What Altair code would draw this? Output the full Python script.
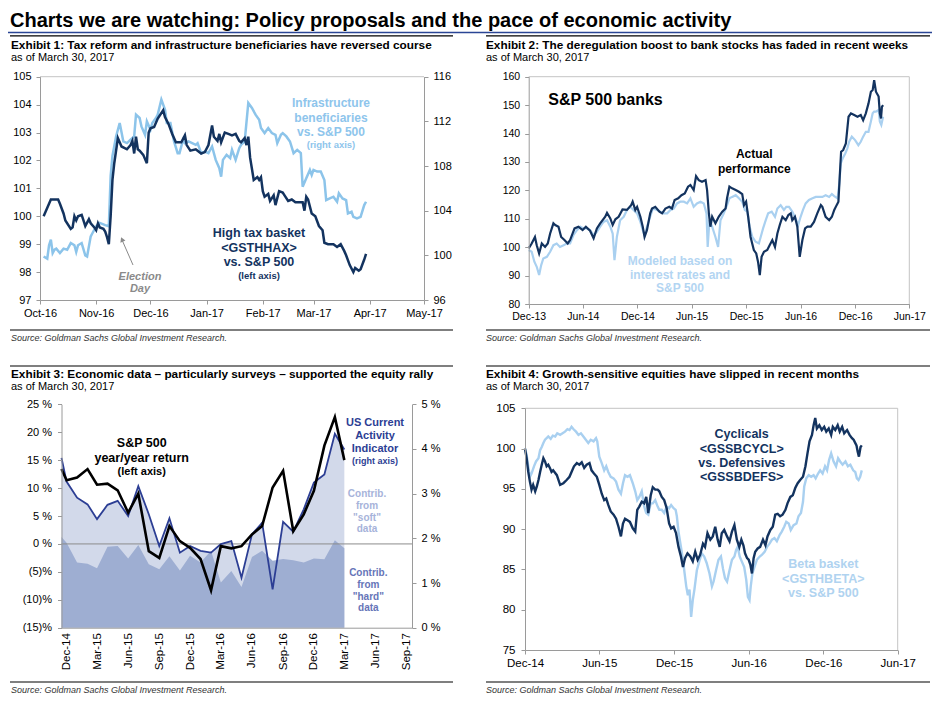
import altair as alt
import pandas as pd

# ------------------------------------------------------------------ text
TITLE = "Charts we are watching: Policy proposals and the pace of economic activity"
EXHIBITS = [
    "Exhibit 1: Tax reform and infrastructure beneficiaries have reversed course",
    "Exhibit 2: The deregulation boost to bank stocks has faded in recent weeks",
    "Exhibit 3: Economic data \u2013 particularly surveys \u2013  supported the equity rally",
    "Exhibit 4: Growth-sensitive equities have slipped in recent months",
]
AS_OF = "as of March 30, 2017"
SOURCE = "Source: Goldman Sachs Global Investment Research."

# ------------------------------------------------------------------ Exhibit 1 (days since 2016-10-01)
P1_START = "2016-10-01"
P1_TAX_DAY = [2, 6, 10, 11, 13, 14, 17, 18, 19, 20, 21, 23, 24, 25, 27, 28, 30, 31, 32, 33,
              35, 36, 37, 38, 39, 40, 41, 43, 45, 48, 50, 51, 52, 53, 54, 55, 57, 59, 60, 61,
              63, 65, 68, 69, 71, 73, 75, 78, 80, 81, 83, 86, 87, 89, 91, 93, 95, 96, 98, 99,
              100, 102, 104, 106, 108, 110, 111, 113, 114, 115, 116, 118, 120, 121, 122, 123, 124, 126, 127, 129,
              130, 132, 134, 135, 137, 139, 141, 145, 146, 147, 148, 150, 152, 154, 156, 157, 159, 162, 164, 166,
              168, 169, 171, 173, 174, 176, 177, 179, 180]
P1_TAX = [100.0, 100.6, 100.6, 100.45, 100.1, 99.85, 99.55, 99.6, 100.0, 99.85,
          100.0, 100.05, 99.85, 99.65, 99.9, 99.75, 99.6, 99.5, 99.75, 99.6,
          99.55, 99.45, 99.25, 99.0, 100.0, 101.3, 101.9, 102.8, 102.5, 102.4,
          102.55, 102.7, 102.25, 102.85, 102.4, 102.35, 102.2, 101.9, 103.0, 103.15,
          103.2, 103.5, 103.8, 103.55, 103.3, 102.95, 102.65, 102.65, 102.9, 102.55,
          102.35, 102.4, 102.35, 102.25, 102.3, 102.55, 103.25, 102.85, 102.7, 102.95,
          102.65, 103.0, 102.95, 102.9, 102.95, 102.7, 102.65, 102.8, 102.55, 102.85,
          102.1, 101.3, 101.4, 101.3, 101.4, 100.9, 100.7, 100.8, 100.55, 100.75,
          100.4, 100.9, 100.85, 100.75, 100.55, 100.6, 100.5, 100.5, 100.2, 100.7,
          100.6, 100.1, 100.0, 99.65, 99.5, 99.05, 99.0, 99.0, 98.9, 99.0,
          98.75, 98.6, 98.25, 98.0, 98.15, 98.05, 98.1, 98.45, 98.65]
P1_INFRA_DAY = [2, 4, 5, 6, 7, 8, 9, 11, 13, 15, 17, 19, 20, 21, 23, 25, 26, 28, 29, 31,
                33, 36, 38, 39, 40, 42, 44, 46, 48, 50, 52, 53, 55, 56, 58, 59, 61, 62, 64, 65,
                67, 69, 70, 72, 74, 76, 77, 79, 80, 82, 84, 86, 87, 89, 91, 93, 95, 97, 99, 100,
                101, 103, 105, 106, 108, 110, 111, 113, 115, 117, 119, 121, 122, 124, 126, 128, 130, 131, 133, 134,
                136, 138, 140, 142, 144, 145, 147, 149, 150, 151, 153, 155, 157, 158, 160, 162, 164, 165, 167, 169,
                170, 172, 173, 175, 177, 179, 180]
P1_INFRA = [99.9, 99.7, 100.9, 101.4, 100.2, 100.5, 100.6, 100.2, 100.6, 100.5,
            101.1, 100.9, 100.3, 100.9, 101.1, 100.0, 99.9, 101.7, 102.0, 102.6,
            102.9, 102.7, 102.6, 107.1, 108.9, 110.65, 111.85, 110.2, 110.05, 110.35,
            110.65, 112.6, 112.3, 111.55, 110.8, 112.0, 111.25, 111.85, 112.3, 112.6,
            113.95, 113.05, 111.85, 111.85, 110.2, 109.15, 109.15, 110.35, 110.05, 110.2,
            110.05, 109.9, 110.05, 109.15, 109.3, 109.15, 109.75, 108.55, 107.8, 107.05,
            108.55, 109.0, 108.7, 109.45, 108.55, 109.6, 109.9, 110.2, 113.65, 113.2,
            112.6, 112.15, 111.4, 110.95, 111.4, 110.95, 110.8, 110.05, 110.8, 110.95,
            110.65, 110.2, 109.15, 109.45, 109.15, 106.15, 106.9, 107.65, 107.2, 107.65,
            107.5, 107.5, 106.75, 104.95, 105.1, 105.25, 104.8, 105.55, 105.1, 104.95,
            103.75, 103.9, 103.45, 103.3, 103.45, 104.5, 104.8]

# ------------------------------------------------------------------ Exhibit 2 (days since 2013-12-01)
P2_START = "2013-12-01"
P2_ACTUAL_DAY = [0, 10, 21, 27, 35, 44, 55, 64, 72, 83, 89, 100, 109, 120, 131, 139, 154, 167, 181, 192,
                 206, 218, 229, 240, 257, 263, 274, 282, 291, 302, 315, 330, 344, 349, 358, 364, 375, 383, 389, 397,
                 408, 414, 425, 439, 448, 459, 472, 481, 490, 502, 513, 524, 535, 543, 554, 562, 571, 582, 594, 599,
                 605, 610, 616, 627, 638, 650, 661, 666, 674, 683, 695, 706, 717, 723, 730, 737, 745, 756, 764, 770,
                 776, 782, 790, 801, 809, 818, 827, 835, 843, 852, 863, 872, 880, 885, 894, 902, 910, 919, 928, 936,
                 947, 958, 969, 981, 986, 997, 1009, 1018, 1026, 1034, 1040, 1045, 1049, 1056, 1065, 1074, 1082, 1093, 1104, 1115,
                 1123, 1132, 1141, 1149, 1155, 1160, 1166, 1175, 1179, 1183, 1186, 1190]
P2_ACTUAL = [99.6, 101.3, 103.6, 100.7, 97.8, 101.3, 100.1, 101.3, 104.8, 108.4,
             107.8, 107.2, 103.6, 102.5, 101.3, 102.5, 106.6, 107.2, 106.0, 107.2,
             105.8, 103.1, 106.6, 108.4, 110.7, 112.1, 110.1, 107.8, 109.8, 110.7,
             113.3, 113.1, 114.8, 116.0, 113.1, 114.2, 110.7, 107.2, 103.6, 106.0,
             111.9, 113.6, 114.2, 112.5, 111.9, 113.6, 114.2, 113.6, 116.6, 117.2,
             118.3, 118.9, 121.3, 121.9, 120.1, 125.0, 123.6, 123.0, 123.6, 120.1,
             111.9, 107.2, 110.7, 108.4, 110.7, 112.5, 113.6, 117.2, 121.3, 120.7,
             120.1, 119.5, 118.7, 114.8, 116.0, 110.7, 103.6, 99.0, 97.8, 94.9,
             90.2, 96.6, 98.4, 99.0, 100.7, 102.5, 100.1, 104.8, 107.8, 110.7,
             109.5, 111.3, 111.9, 109.5, 110.7, 107.2, 96.6, 102.5, 106.6, 107.2,
             107.2, 108.9, 111.9, 114.8, 114.2, 110.7, 109.5, 110.7, 113.1, 114.8,
             116.0, 126.0, 133.6, 134.2, 136.5, 145.9, 147.1, 146.5, 145.9, 146.5,
             144.7, 147.1, 150.6, 154.7, 155.3, 158.8, 154.7, 153.0, 147.1, 145.3,
             149.4, 150.0]
P2_MODEL_DAY = [0, 10, 19, 27, 35, 42, 49, 61, 72, 83, 94, 105, 117, 128, 139, 150, 162, 173, 184, 195,
                206, 218, 229, 240, 251, 263, 274, 282, 288, 296, 307, 319, 330, 341, 352, 364, 375, 383, 389, 397,
                408, 417, 431, 442, 453, 465, 476, 487, 498, 509, 521, 532, 543, 554, 565, 577, 588, 597, 601, 607,
                616, 627, 636, 644, 655, 666, 674, 683, 695, 706, 717, 726, 734, 742, 751, 762, 773, 779, 787, 796,
                804, 816, 827, 835, 846, 857, 865, 874, 885, 896, 905, 913, 921, 930, 941, 953, 964, 975, 986, 997,
                1009, 1018, 1026, 1037, 1043, 1048, 1054, 1063, 1070, 1076, 1085, 1096, 1107, 1115, 1123, 1132, 1141, 1149, 1155, 1160,
                1166, 1175, 1179, 1184, 1190]
P2_MODEL = [99.0, 98.4, 94.9, 93.1, 90.2, 93.7, 96.0, 96.6, 98.4, 100.7,
            101.3, 100.1, 100.7, 101.3, 101.3, 104.2, 106.0, 107.2, 106.6, 106.6,
            106.0, 104.2, 105.4, 107.2, 108.9, 109.5, 107.2, 104.8, 95.4, 103.6,
            109.5, 110.7, 113.1, 114.2, 113.1, 111.9, 108.9, 106.0, 104.2, 107.2,
            110.7, 113.6, 113.1, 112.5, 111.9, 111.9, 113.1, 113.6, 115.4, 116.0,
            116.0, 115.4, 117.2, 114.2, 115.4, 116.0, 115.4, 111.9, 100.1, 109.5,
            107.2, 103.6, 100.1, 109.5, 111.9, 114.8, 117.2, 117.7, 118.3, 117.2,
            116.0, 113.1, 112.5, 107.2, 103.6, 101.9, 101.3, 103.6, 106.6, 109.5,
            111.9, 112.5, 110.7, 113.6, 114.8, 113.1, 114.2, 114.2, 112.5, 110.1,
            107.8, 110.7, 113.1, 115.4, 116.6, 117.2, 117.7, 117.7, 117.7, 118.3,
            117.7, 118.7, 118.0, 117.2, 122.4, 129.5, 131.2, 133.0, 134.8, 137.1,
            138.9, 137.7, 135.9, 137.1, 138.9, 140.6, 140.6, 144.2, 147.1, 147.7,
            147.7, 148.3, 144.2, 143.0, 145.9]

# ------------------------------------------------------------------ Exhibit 3 (monthly)
P3_MONTH = ["2014-11-16", "2014-12-01",
            "2015-01-01", "2015-02-01", "2015-03-01", "2015-04-01", "2015-05-01", "2015-06-01",
            "2015-07-01", "2015-08-01", "2015-09-01", "2015-10-01", "2015-11-01", "2015-12-01",
            "2016-01-01", "2016-02-01", "2016-03-01", "2016-04-01", "2016-05-01", "2016-06-01",
            "2016-07-01", "2016-08-01", "2016-09-01", "2016-10-01", "2016-11-01", "2016-12-01",
            "2017-01-01", "2017-02-01", "2017-03-01"]
P3_SPX = [13.4, 11.4, 11.9, 13.4, 10.6, 10.8, 9.6, 5.6, 9.0, -1.3, -2.5, 3.2, 0.5, -0.7, -2.7,
          -8.3, -0.4, -0.8, -0.4, 1.7, 3.2, 10.1, 13.1, 2.3, 5.3, 9.5, 17.6, 22.7, 15.0]
P3_CAI = [3.8, 3.27, 2.91, 2.76, 2.43, 2.75, 2.84, 2.5, 3.17, 2.54, 1.83, 2.45, 1.68, 1.83, 1.72,
          1.68, 1.87, 1.94, 1.12, 2.09, 2.35, 0.86, 2.37, 2.15, 2.65, 3.25, 3.43, 4.34, 3.99]
P3_HARD = [2.03, 1.9, 1.46, 1.43, 1.33, 1.81, 1.83, 1.55, 1.85, 1.42, 1.31, 1.6, 1.28, 1.61, 1.46,
           1.72, 1.01, 1.27, 0.91, 1.58, 1.72, 1.5, 1.54, 1.51, 1.46, 1.55, 1.53, 1.96, 1.78]

# ------------------------------------------------------------------ Exhibit 4 (days since 2014-12-01)
P4_START = "2014-12-01"
P4_CYCL_DAY = [0, 4, 8, 12, 16, 20, 25, 29, 33, 37, 41, 45, 49, 53, 57, 61, 65, 69, 78, 86,
               94, 102, 109, 114, 120, 127, 133, 139, 145, 151, 158, 163, 169, 176, 182, 188, 194, 199, 204, 210,
               217, 223, 229, 235, 240, 245, 251, 257, 264, 270, 275, 280, 286, 292, 297, 302, 308, 313, 319, 325,
               329, 335, 341, 347, 353, 358, 364, 370, 376, 382, 387, 392, 398, 405, 411, 417, 423, 429, 436, 441,
               447, 454, 460, 466, 472, 477, 482, 488, 495, 501, 507, 513, 519, 525, 530, 535, 539, 544, 548, 552,
               556, 560, 564, 570, 576, 583, 589, 594, 601, 607, 613, 619, 625, 631, 638, 643, 650, 656, 662, 668,
               674, 681, 687, 692, 697, 703, 707, 711, 715, 721, 727, 733, 738, 744, 750, 754, 760, 766, 771, 777,
               782, 789, 795, 801, 805, 812, 815, 818, 822, 825]
P4_CYCL = [100.0, 98.8, 97.1, 95.9, 94.9, 95.5, 94.7, 95.3, 96.1, 97.1,
           98.0, 98.8, 98.4, 97.8, 98.0, 97.6, 97.1, 97.3, 96.7, 95.5,
           95.7, 96.1, 96.5, 97.1, 97.8, 98.2, 98.0, 98.3, 97.6, 98.0,
           98.2, 97.3, 96.9, 96.5, 95.5, 94.4, 93.6, 93.8, 93.0, 92.2,
           91.8, 91.3, 90.3, 89.1, 90.7, 91.3, 91.1, 90.9, 90.1, 89.7,
           92.4, 92.8, 93.4, 93.2, 94.0, 92.0, 94.2, 95.2, 94.9, 94.9,
           94.7, 94.0, 93.6, 92.6, 90.7, 90.1, 90.3, 89.5, 87.8, 86.6,
           85.3, 86.4, 87.0, 86.6, 86.0, 87.2, 86.2, 86.8, 88.2, 87.8,
           89.5, 88.7, 89.1, 90.3, 88.7, 87.8, 89.5, 89.9, 89.1, 88.5,
           89.7, 90.5, 88.7, 87.8, 88.7, 88.0, 87.0, 86.4, 86.2, 85.6,
           84.5, 86.4, 87.2, 87.6, 87.8, 88.7, 88.0, 89.1, 89.9, 90.3,
           91.8, 91.9, 91.6, 91.8, 92.4, 93.2, 94.0, 94.2, 95.1, 95.7,
           96.1, 96.5, 97.8, 99.4, 100.9, 101.7, 102.9, 103.8, 102.5, 102.9,
           102.3, 102.7, 102.1, 102.5, 101.7, 102.7, 102.3, 102.9, 102.1, 102.7,
           101.9, 102.3, 101.7, 101.3, 101.1, 100.4, 99.6, 99.0, 100.2, 100.4]
P4_BETA_DAY = [0, 4, 8, 12, 16, 22, 27, 33, 37, 41, 45, 49, 53, 57, 63, 68, 74, 79, 86, 92,
               98, 104, 109, 114, 119, 125, 131, 137, 143, 149, 155, 161, 168, 174, 177, 182, 188, 194, 199, 204,
               210, 217, 223, 229, 235, 240, 245, 251, 257, 264, 270, 275, 280, 286, 292, 297, 302, 308, 313, 319,
               325, 329, 335, 341, 347, 353, 358, 364, 369, 372, 376, 382, 387, 391, 395, 399, 403, 407, 411, 415,
               421, 428, 433, 439, 445, 452, 458, 462, 468, 474, 480, 485, 490, 495, 501, 507, 513, 517, 521, 526,
               531, 537, 542, 546, 550, 553, 557, 562, 568, 575, 580, 587, 593, 599, 605, 611, 617, 624, 629, 635,
               640, 646, 651, 658, 665, 670, 676, 681, 684, 689, 695, 701, 707, 712, 718, 723, 729, 735, 740, 745,
               750, 756, 762, 767, 772, 778, 785, 791, 797, 804, 809, 813, 817, 821, 825]
P4_BETA = [100.0, 99.2, 97.8, 96.5, 96.9, 97.8, 98.4, 98.8, 99.8, 100.2,
           100.7, 101.1, 101.3, 101.5, 101.2, 101.6, 101.5, 101.9, 101.7, 101.9,
           102.1, 102.4, 102.3, 102.7, 102.4, 102.1, 101.7, 101.9, 101.5, 101.1,
           100.7, 101.1, 100.9, 101.3, 100.9, 99.0, 98.2, 97.3, 97.8, 97.1,
           96.5, 96.3, 95.9, 94.9, 94.4, 95.7, 96.7, 96.5, 96.7, 95.7,
           94.7, 93.6, 94.0, 94.7, 92.8, 92.0, 91.8, 93.2, 93.2, 93.6,
           92.8, 92.4, 92.4, 92.0, 92.8, 92.6, 93.0, 92.6, 92.4, 91.6,
           89.7, 87.8, 86.2, 84.5, 82.9, 81.8, 82.5, 79.1, 81.2, 82.5,
           84.9, 86.2, 87.0, 86.6, 85.8, 84.5, 82.9, 83.5, 84.9, 86.2,
           86.6, 85.1, 83.9, 83.5, 84.9, 86.2, 86.6, 87.4, 87.8, 86.6,
           86.0, 85.3, 83.7, 81.6, 81.2, 82.9, 84.5, 85.3, 86.2, 86.6,
           86.8, 87.2, 87.8, 88.2, 88.7, 88.9, 88.5, 89.3, 89.7, 90.3,
           90.9, 90.7, 89.9, 90.5, 90.7, 91.6, 92.0, 93.4, 95.3, 96.3,
           96.7, 96.5, 96.7, 96.3, 96.9, 97.3, 96.9, 97.8, 97.3, 98.6,
           99.4, 98.4, 97.8, 98.8, 98.4, 98.0, 98.4, 97.8, 98.0, 97.3,
           97.1, 96.3, 96.1, 96.5, 97.3]

# ------------------------------------------------------------------ styling / geometry
W, H = 924, 692
FONT = "Liberation Sans"
NAVY = "#13335f"
LIGHT1 = "#8cc4ea"
LIGHT2 = "#a9d0f0"
AXIS_GRAY = "#9a9a9a"
FRAME_GRAY = "#c4c4c4"

G1 = dict(x0=32, x1=416, yb=292, yt=68.7)
G2 = dict(x0=520.7, x1=901.3, yb=296, yt=68.7)
G3 = dict(x0=53.5, x1=404, yb=619.7, yt=396.3)
G4 = dict(x0=517, x1=889.7, yb=642, yt=400.3)


def series(start, days, values):
    assert len(days) == len(values)
    return pd.DataFrame({"date": pd.Timestamp(start) + pd.to_timedelta(days, unit="D"),
                         "value": values})


def dt(y, m, d=1):
    return alt.DateTime(year=y, month=m, date=d)


def ax(**kw):
    base = dict(title=None, grid=False, domainColor=AXIS_GRAY, tickColor=AXIS_GRAY, tickSize=4,
                labelPadding=4, labelFont=FONT, labelFontSize=11, labelColor="#000",
                labelFlush=False, labelOverlap=False, zindex=1)
    base.update(kw)
    return alt.Axis(**base)


def yscale(domain, g):
    return alt.Scale(domain=domain, range=[g["yb"], g["yt"]], nice=False, zero=False)


def xtime(domain, g, ticks, size=11):
    return alt.X("date:T",
                 scale=alt.Scale(domain=domain, range=[g["x0"], g["x1"]], nice=False),
                 axis=ax(orient="bottom", offset=g["yb"] - H, values=ticks, format="%b-%y",
                         labelPadding=3, labelFontSize=size))


# ------------------------------------------------------------------ panel 1
x1 = xtime([dt(2016, 10, 1), dt(2017, 5, 1)], G1,
           [dt(2016, 10), dt(2016, 11), dt(2016, 12), dt(2017, 1), dt(2017, 2),
            dt(2017, 3), dt(2017, 4), dt(2017, 5)])
infra = alt.Chart(series(P1_START, P1_INFRA_DAY, P1_INFRA)).mark_line(
    color=LIGHT1, strokeWidth=2.5).encode(
    x=x1,
    y=alt.Y("value:Q", scale=yscale([96, 116], G1),
            axis=ax(orient="right", offset=G1["x1"] - W, values=[96, 100, 104, 108, 112, 116],
                    labelPadding=5)))
tax = alt.Chart(series(P1_START, P1_TAX_DAY, P1_TAX)).mark_line(
    color=NAVY, strokeWidth=2.5).encode(
    x=x1,
    y=alt.Y("value:Q", scale=yscale([97, 105], G1),
            axis=ax(orient="left", offset=-G1["x0"], values=list(range(97, 106)), labelPadding=5)))
p1 = alt.layer(infra, tax).resolve_scale(y="independent")

# ------------------------------------------------------------------ panel 2
x2 = xtime([dt(2013, 12, 1), dt(2017, 6, 1)], G2,
           [dt(2013, 12), dt(2014, 6), dt(2014, 12), dt(2015, 6), dt(2015, 12),
            dt(2016, 6), dt(2016, 12), dt(2017, 6)], size=10.5)
y2 = alt.Y("value:Q", scale=yscale([80, 160], G2),
           axis=ax(orient="left", offset=-G2["x0"], values=list(range(80, 161, 10)),
                   labelFontSize=10.5, labelPadding=5))
model = alt.Chart(series(P2_START, P2_MODEL_DAY, P2_MODEL)).mark_line(
    color=LIGHT2, strokeWidth=2.2).encode(x=x2, y=y2)
actual = alt.Chart(series(P2_START, P2_ACTUAL_DAY, P2_ACTUAL)).mark_line(
    color=NAVY, strokeWidth=2.2).encode(x=x2, y=y2)
p2 = alt.layer(model, actual)

# ------------------------------------------------------------------ panel 3
df3 = pd.DataFrame({"date": pd.to_datetime(P3_MONTH), "spx": P3_SPX, "cai": P3_CAI, "hard": P3_HARD})
x3 = alt.X("date:T",
           scale=alt.Scale(domain=[dt(2014, 11, 16), dt(2017, 9, 17)], range=[G3["x0"], G3["x1"]], nice=False),
           axis=ax(orient="bottom", offset=G3["yb"] - H,
                   values=[dt(2014, 12), dt(2015, 3), dt(2015, 6), dt(2015, 9), dt(2015, 12),
                           dt(2016, 3), dt(2016, 6), dt(2016, 9), dt(2016, 12), dt(2017, 3),
                           dt(2017, 6), dt(2017, 9)],
                   format="%b-%y", labelAngle=270, ticks=False, labelPadding=5, labelFontSize=11.5))
right3 = yscale([0, 5], G3)
left3 = yscale([-15, 25], G3)
soft = alt.Chart(df3).mark_area(color="#d2d9ea", opacity=1).encode(
    x=x3,
    y=alt.Y("cai:Q", scale=right3,
            axis=ax(orient="right", offset=G3["x1"] - W, values=[0, 1, 2, 3, 4, 5],
                    labelExpr="datum.value + ' %'", labelPadding=5)))
hard = alt.Chart(df3).mark_area(color="#9eaed2", opacity=1).encode(
    x=x3, y=alt.Y("hard:Q", scale=right3, axis=None))
zero = alt.Chart(df3.head(1)).mark_rule(color="#8c8c8c", strokeWidth=1).encode(
    x=alt.value(G3["x0"]), x2=alt.value(G3["x1"]),
    y=alt.YDatum(0, type="quantitative", scale=left3, axis=None))
cai = alt.Chart(df3).mark_line(color="#2c3e94", strokeWidth=1.8).encode(
    x=x3, y=alt.Y("cai:Q", scale=right3, axis=None))
spx = alt.Chart(df3).mark_line(color="#000000", strokeWidth=2.6).encode(
    x=x3,
    y=alt.Y("spx:Q", scale=left3,
            axis=ax(orient="left", offset=-G3["x0"], values=list(range(-15, 26, 5)),
                    labelExpr="datum.value < 0 ? '(' + (-datum.value) + ')%' : datum.value + ' %'",
                    labelPadding=6)))
p3 = alt.layer(soft, hard, zero, cai, spx).resolve_scale(y="independent")

# ------------------------------------------------------------------ panel 4
x4 = xtime([dt(2014, 12, 1), dt(2017, 6, 1)], G4,
           [dt(2014, 12), dt(2015, 6), dt(2015, 12), dt(2016, 6), dt(2016, 12), dt(2017, 6)],
           size=11.5)
y4 = alt.Y("value:Q", scale=yscale([75, 105], G4),
           axis=ax(orient="left", offset=-G4["x0"], values=list(range(75, 106, 5)),
                   labelFontSize=11.5, labelPadding=6))
beta = alt.Chart(series(P4_START, P4_BETA_DAY, P4_BETA)).mark_line(
    color=LIGHT2, strokeWidth=2.4).encode(x=x4, y=y4)
cycl = alt.Chart(series(P4_START, P4_CYCL_DAY, P4_CYCL)).mark_line(
    color=NAVY, strokeWidth=2.4).encode(x=x4, y=y4)
p4 = alt.layer(beta, cycl)

# ------------------------------------------------------------------ decorations
one = pd.DataFrame({"k": [0]})


def txt(s, x, y, size, color="#000", weight="bold", style="normal", align="center", baseline="middle"):
    return alt.Chart(one).mark_text(text=s, font=FONT, fontSize=size, fontWeight=weight,
                                    fontStyle=style, color=color, align=align,
                                    baseline=baseline).encode(x=alt.value(x), y=alt.value(y))


def block(lines, x, y0, step, size, color, **kw):
    return [txt(s, x, y0 + i * step, size, color, **kw) for i, s in enumerate(lines)]


def hrule(x0, x1_, y, color, width):
    return alt.Chart(one).mark_rule(color=color, strokeWidth=width).encode(
        x=alt.value(x0), x2=alt.value(x1_), y=alt.value(y))


def vrule(x, y0, y1, color, width):
    return alt.Chart(one).mark_rule(color=color, strokeWidth=width).encode(
        x=alt.value(x), y=alt.value(y0), y2=alt.value(y1))


frames = [
    hrule(G1["x0"], G1["x1"], G1["yt"], FRAME_GRAY, 1),
    hrule(G2["x0"], G2["x1"], G2["yt"], FRAME_GRAY, 1),
    vrule(G2["x1"], G2["yt"], G2["yb"], FRAME_GRAY, 1),
    hrule(G4["x0"], G4["x1"], G4["yt"], FRAME_GRAY, 1),
    vrule(G4["x1"], G4["yt"], G4["yb"], FRAME_GRAY, 1),
]

header = [
    txt(TITLE, 2, 19, 20, align="left", baseline="alphabetic"),
    hrule(0, W, 24.5, "#2a4595", 1.5),
]
for (lx, rx) in [(2, 445), (478, 922)]:
    for y in (27.8, 322, 358, 674):
        header.append(hrule(lx, rx, y, "#000", 1.2))
for i, (x, y) in enumerate([(3, 36.5), (478, 36.5), (3, 366), (478, 366)]):
    header.append(txt(EXHIBITS[i], x, y, 11.8, align="left"))
    header.append(txt(AS_OF, x, y + 13, 11, weight="normal", align="left"))
for (x, y) in [(3, 329.5), (478, 329.5), (3, 682), (478, 682)]:
    header.append(txt(SOURCE, x, y, 9, color="#333", weight="normal", style="italic", align="left"))

notes = []
notes += block(["Infrastructure", "beneficiaries", "vs. S&P 500"], 323, 95.3, 14.5, 12, "#8ec5ec")
notes.append(txt("(right axis)", 323, 136.7, 9.5, "#8ec5ec"))
notes += block(["High tax basket", "<GSTHHAX>", "vs. S&P 500"], 251, 225.3, 14.5, 12.5, NAVY)
notes.append(txt("(left axis)", 251, 267.7, 9.5, NAVY))
notes += block(["Election", "Day"], 132, 268.5, 12.5, 11, "#8a8a8a", style="italic")
notes.append(alt.Chart(one).mark_rule(color="#8a8a8a", strokeWidth=1).encode(
    x=alt.value(125), y=alt.value(257), x2=alt.value(114.5), y2=alt.value(233)))
notes.append(alt.Chart(one).mark_point(shape="triangle-up", filled=True, size=30, angle=337,
                                       color="#8a8a8a", opacity=1).encode(
    x=alt.value(114), y=alt.value(231.5)))

notes.append(txt("S&P 500 banks", 540.3, 92, 16, "#000", align="left"))
notes += block(["Actual", "performance"], 746.3, 146.3, 15, 12, "#000")
notes += block(["Modeled based on", "interest rates and", "S&P 500"], 672, 252.7, 13.8, 12, "#b3d5f2")

notes += block(["S&P 500", "year/year return"], 133.7, 435.3, 14.4, 12.5, "#000")
notes.append(txt("(left axis)", 133.7, 464, 11, "#000"))
notes += block(["US Current", "Activity", "Indicator"], 367, 414.7, 13.2, 11, "#2c3e94")
notes.append(txt("(right axis)", 367, 452.7, 9, "#2c3e94"))
notes += block(["Contrib.", "from", "\"soft\"", "data"], 359, 486.3, 11.7, 10, "#a7b3da")
notes += block(["Contrib.", "from", "\"hard\"", "data"], 360.3, 565.3, 11.7, 10, "#6675b8")

notes += block(["Cyclicals", "<GSSBCYCL>", "vs. Defensives", "<GSSBDEFS>"], 733.7, 426.3, 14.2, 12.5, NAVY)
notes += block(["Beta basket", "<GSTHBETA>", "vs. S&P 500"], 815.3, 556.3, 14.5, 12.5, "#b0d3f0")

chart = alt.layer(*frames, p1, p2, p3, p4, *header, *notes).resolve_scale(
    x="independent", y="independent"
).properties(
    width=W, height=H, autosize=alt.AutoSizeParams(type="none"), padding=0
).configure_view(stroke=None)

chart.save("out.html", embed_options={"renderer": "svg", "actions": False})
